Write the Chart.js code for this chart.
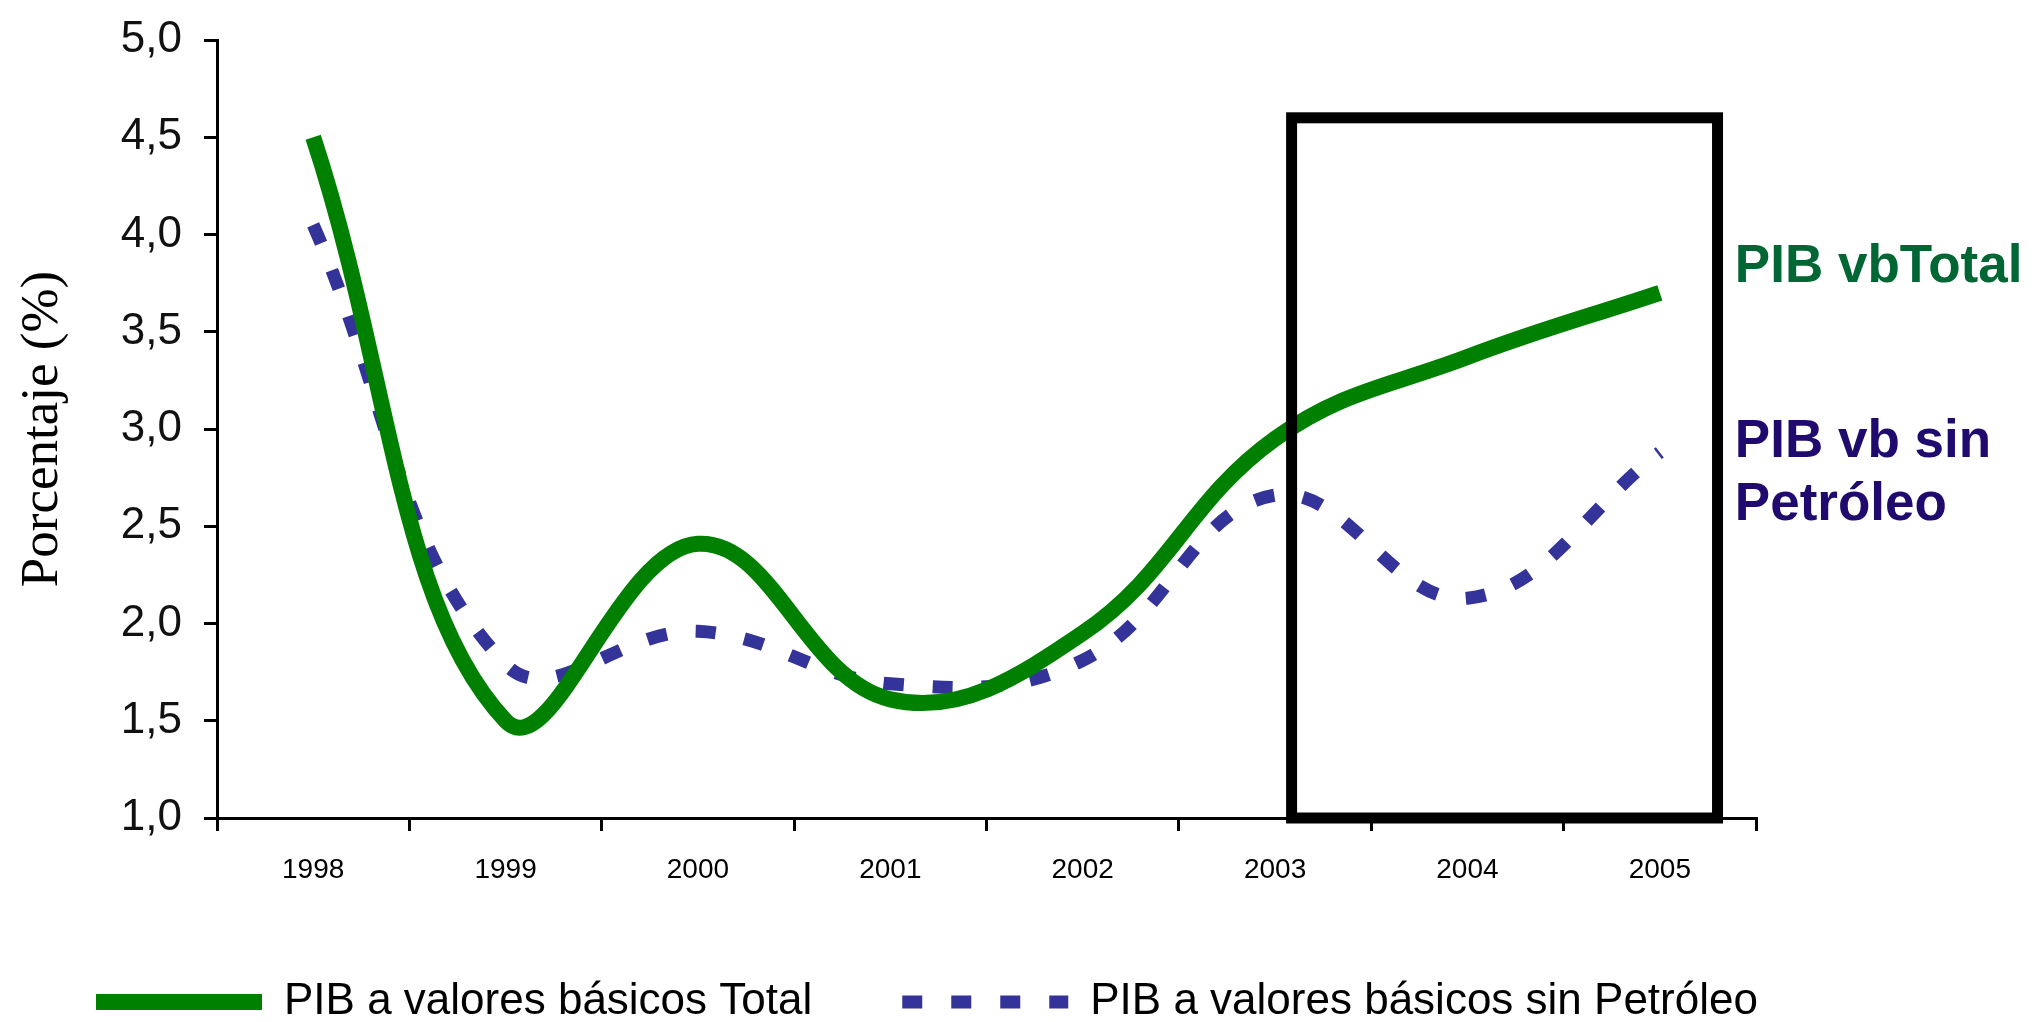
<!DOCTYPE html>
<html>
<head>
<meta charset="utf-8">
<title>PIB a valores básicos</title>
<script src="https://cdn.jsdelivr.net/npm/chart.js@4.4.1/dist/chart.umd.min.js"></script>
<style>
  html, body { margin: 0; padding: 0; background: #fff; overflow: hidden; }
  #wrap { width: 2036px; height: 1034px; }
</style>
</head>
<body>
<div id="wrap"><canvas id="chart"></canvas></div>
<script>
const years = ["1998", "1999", "2000", "2001", "2002", "2003", "2004", "2005"];
const pibTotal = [4.50, 1.50, 2.41, 1.61, 1.95, 2.95, 3.37, 3.70];
const pibSinPetroleo = [4.05, 1.79, 1.96, 1.69, 1.81, 2.66, 2.13, 2.88];
const seriesNames = ["PIB a valores básicos Total", "PIB a valores básicos sin Petróleo"];
const sideLabelTotal = ["PIB vbTotal"];
const sideLabelSin = ["PIB vb sin", "Petróleo"];
const yMin = 1, yMax = 5, yStep = 0.5;

const SANS = "'Liberation Sans', Arial, sans-serif";

// black frame round 2003-2005 and the labels on the right
Chart.register({
  id: "highlight",
  afterDraw: (chart) => {
    const ctx = chart.ctx;
    const { x, y } = chart.scales;
    const left = x.getPixelForValue(5.086);
    const right = x.getPixelForValue(7.30);
    const top = y.getPixelForValue(4.6);
    const bottom = y.getPixelForValue(1.0);
    ctx.save();
    ctx.strokeStyle = "#000";
    ctx.lineWidth = 11;
    ctx.strokeRect(left, top, right - left, bottom - top);

    ctx.font = "bold 53px " + SANS;
    ctx.textAlign = "left";
    ctx.textBaseline = "alphabetic";
    const tx = x.getPixelForValue(7.39);
    ctx.fillStyle = "#006633";
    ctx.fillText(sideLabelTotal[0], tx, y.getPixelForValue(3.756));
    ctx.fillStyle = "#200a6e";
    ctx.fillText(sideLabelSin[0], tx, y.getPixelForValue(2.856));
    ctx.fillText(sideLabelSin[1], tx, y.getPixelForValue(2.532));
    ctx.restore();
  },
});

new Chart("chart", {
  type: "line",
  data: {
    labels: years,
    datasets: [
      {
        label: seriesNames[0],
        data: pibTotal,
        borderColor: "#008000",
        backgroundColor: "#008000",
        borderWidth: 16,
        pointRadius: 0,
        tension: 0.4,
        fill: false,
      },
      {
        label: seriesNames[1],
        data: pibSinPetroleo,
        borderColor: "#333399",
        backgroundColor: "#333399",
        borderWidth: 13,
        borderDash: [20, 29],
        pointRadius: 0,
        tension: 0.4,
        fill: false,
      },
    ],
  },
  options: {
    responsive: true,
    maintainAspectRatio: false,
    animation: false,
    layout: { padding: { left: 6, right: 0, top: 40, bottom: 0 } },
    scales: {
      x: {
        offset: true,
        grid: { offset: true, drawOnChartArea: false, color: "#000", lineWidth: 3, tickLength: 13 },
        border: { color: "#000", width: 3 },
        ticks: {
          color: "#000",
          padding: 22,
          maxRotation: 0,
          autoSkip: false,
          font: { family: SANS, size: 28 },
        },
        afterFit: (scale) => { scale.height = 72; },
      },
      y: {
        min: yMin,
        max: yMax,
        grid: { drawOnChartArea: false, color: "#000", lineWidth: 3, tickLength: 13 },
        border: { color: "#000", width: 3 },
        ticks: {
          stepSize: yStep,
          color: "#111",
          padding: 22,
          font: { family: SANS, size: 44 },
          callback: (v) => v.toFixed(1).replace(".", ","),
        },
        title: {
          display: true,
          text: "Porcentaje (%)",
          color: "#000",
          font: { family: "'Liberation Serif', 'Times New Roman', serif", size: 53 },
          padding: { top: 5, bottom: 0 },
        },
        afterFit: (scale) => {
          scale.width = 211;
          // tick label padding would otherwise push the plot top down
          scale.paddingTop = 0;
          scale.paddingBottom = 0;
        },
      },
      // empty right-hand axis: keeps room for the side labels without
      // squeezing the full-width legend
      side: {
        type: "linear",
        position: "right",
        grid: { display: false },
        border: { display: false },
        ticks: { display: false },
        afterFit: (scale) => { scale.width = 280; },
      },
    },
    plugins: {
      legend: {
        position: "bottom",
        align: "start",
        labels: {
          usePointStyle: true,
          pointStyle: "line",
          pointStyleWidth: 166,
          boxHeight: 16,
          padding: 90,
          color: "#000",
          font: { family: SANS, size: 44 },
          // point style drops the dash, so take it back from the dataset
          generateLabels: (chart) =>
            Chart.defaults.plugins.legend.labels.generateLabels(chart).map((item, i) => ({
              ...item,
              lineDash: chart.data.datasets[i].borderDash || [],
              lineWidth: chart.data.datasets[i].borderWidth,
            })),
        },
      },
      tooltip: { enabled: false },
    },
  },
});
</script>
</body>
</html>
